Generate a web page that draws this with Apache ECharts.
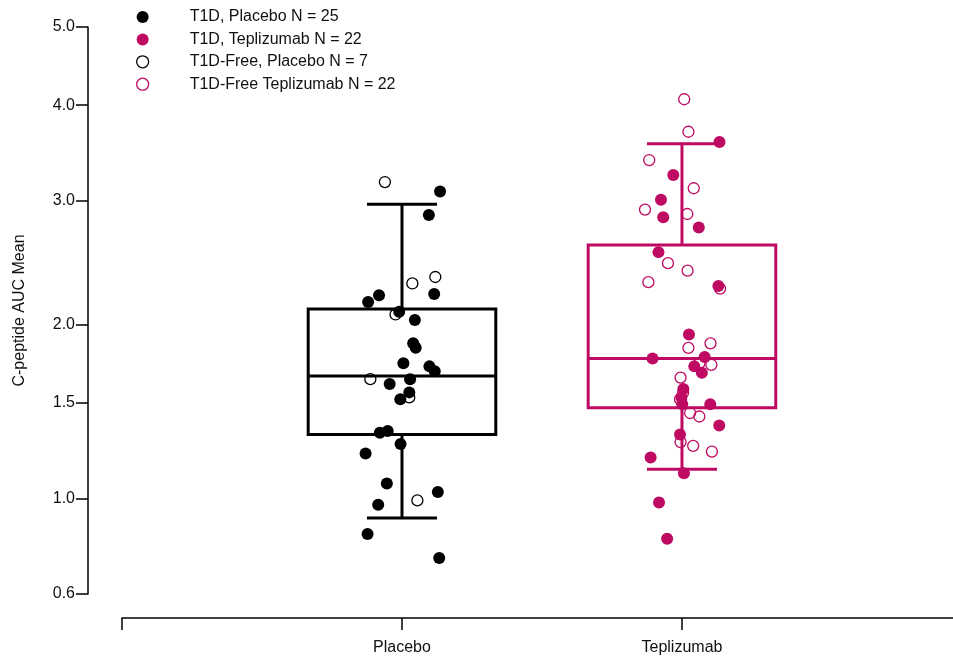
<!DOCTYPE html>
<html>
<head>
<meta charset="utf-8">
<script src="https://cdn.jsdelivr.net/npm/echarts@6/dist/echarts.min.js"></script>
<style>
  html, body { margin: 0; padding: 0; background: #fff; }
  #chart { width: 953px; height: 660px; }
</style>
</head>
<body>
<div id="chart"></div>
<script>
// Treatment groups along the x axis
const categories = ['Placebo', 'Teplizumab'];

// Y tick values (axis is drawn on a log10(value + 1) scale)
const yTicks = [0.6, 1.0, 1.5, 2.0, 3.0, 4.0, 5.0];

// Box summaries: [lower whisker, Q1, median, Q3, upper whisker]
const boxPlacebo = [0.91, 1.32, 1.66, 2.11, 2.97];
const boxTeplizumab = [1.14, 1.47, 1.77, 2.61, 3.57];

// Individual participants: C-peptide AUC mean and horizontal jitter
const t1dPlaceboValues = [3.09, 2.87, 2.21, 2.16, 2.22, 2.09, 2.03, 1.87, 1.84, 1.74, 1.72, 1.69, 1.61, 1.64, 1.56, 1.52, 1.33, 1.34, 1.27, 1.22, 1.07, 1.03, 0.97, 0.84, 0.74];
const t1dPlaceboJitter = [0.136, 0.096, -0.082, -0.121, 0.115, -0.010, 0.046, 0.040, 0.049, 0.005, 0.098, 0.117, -0.044, 0.029, 0.026, -0.006, -0.079, -0.051, -0.005, -0.130, -0.054, 0.128, -0.085, -0.123, 0.133];

const t1dTepValues = [3.59, 3.25, 3.01, 2.85, 2.76, 2.55, 2.28, 1.93, 1.77, 1.78, 1.72, 1.68, 1.58, 1.53, 1.49, 1.49, 1.37, 1.32, 1.20, 1.12, 0.98, 0.82];
const t1dTepJitter = [0.134, -0.031, -0.075, -0.067, 0.060, -0.084, 0.130, 0.025, -0.105, 0.081, 0.044, 0.071, 0.005, -0.002, 0.001, 0.101, 0.133, -0.007, -0.112, 0.007, -0.082, -0.053];

const freePlaceboValues = [3.18, 2.30, 2.35, 2.07, 1.64, 1.53, 0.99];
const freePlaceboJitter = [-0.061, 0.037, 0.119, -0.023, -0.113, 0.026, 0.055];

const freeTepValues = [4.07, 3.70, 3.40, 3.12, 2.92, 2.88, 2.46, 2.40, 2.31, 2.26, 1.84, 1.87, 1.73, 1.74, 1.65, 1.52, 1.44, 1.42, 1.28, 1.26, 1.23, 1.56];
const freeTepJitter = [0.008, 0.023, -0.117, 0.042, -0.132, 0.019, -0.050, 0.020, -0.120, 0.136, 0.023, 0.102, 0.105, 0.062, -0.005, -0.007, 0.029, 0.062, -0.005, 0.040, 0.107, 0.004];

const seriesNames = [
  'T1D, Placebo N = 25',
  'T1D, Teplizumab N = 22',
  'T1D-Free, Placebo N = 7',
  'T1D-Free Teplizumab N = 22'
];

const BLACK = '#000000';
const MAGENTA = '#BE0A62';
const FONT = '"Liberation Sans", Arial, sans-serif';
const OPEN_BORDER = 1.3;

// log10(v + 1) transform used for the vertical scale
const toAxis = v => Math.log10(v + 1);
const fromAxis = a => Math.pow(10, a) - 1;

const points = (values, jitter, catIndex) =>
  values.map((v, k) => [catIndex + 1 + jitter[k], toAxis(v)]);

const boxColors = [BLACK, MAGENTA];
const boxData = [boxPlacebo, boxTeplizumab].map((b, i) => [i + 1].concat(b.map(toAxis)));

const BOX_WIDTH = 0.67;   // in category units
const CAP_WIDTH = 0.25;
const BOX_LINE = 3;

function renderBox(params, api) {
  const x = api.value(0);
  const c = (v) => api.coord([x, v]);
  const pMin = c(api.value(1)), pQ1 = c(api.value(2)), pMed = c(api.value(3)),
        pQ3 = c(api.value(4)), pMax = c(api.value(5));
  const half = api.size([BOX_WIDTH, 0])[0] / 2;
  const capHalf = api.size([CAP_WIDTH, 0])[0] / 2;
  const cx = pMed[0];
  const style = { stroke: boxColors[params.dataIndex], lineWidth: BOX_LINE, fill: null };
  return {
    type: 'group',
    children: [
      { type: 'line', shape: { x1: cx, y1: pQ3[1], x2: cx, y2: pMax[1] }, style },
      { type: 'line', shape: { x1: cx, y1: pQ1[1], x2: cx, y2: pMin[1] }, style },
      { type: 'line', shape: { x1: cx - capHalf, y1: pMax[1], x2: cx + capHalf, y2: pMax[1] }, style },
      { type: 'line', shape: { x1: cx - capHalf, y1: pMin[1], x2: cx + capHalf, y2: pMin[1] }, style },
      { type: 'rect', shape: { x: cx - half, y: pQ3[1], width: half * 2, height: pQ1[1] - pQ3[1] }, style },
      { type: 'line', shape: { x1: cx - half, y1: pMed[1], x2: cx + half, y2: pMed[1] }, style }
    ]
  };
}

const chart = echarts.init(document.getElementById('chart'), null, { renderer: 'canvas' });

const filledStyle = (color) => ({ color: color, borderWidth: 0, opacity: 1 });
const openStyle = (color) => ({ color: 'rgba(255,255,255,0)', borderColor: color, borderWidth: OPEN_BORDER, opacity: 1 });

chart.setOption({
  animation: false,
  backgroundColor: '#ffffff',
  textStyle: { fontFamily: FONT },
  grid: { left: 122, right: 0, top: 27, bottom: 66 },
  legend: {
    orient: 'vertical',
    left: 136,
    top: 8,
    padding: 0,
    itemWidth: 12,
    itemHeight: 12,
    itemGap: 4.4,
    icon: 'circle',
    data: [
      { name: seriesNames[0] },
      { name: seriesNames[1] },
      { name: seriesNames[2], itemStyle: { borderWidth: OPEN_BORDER, borderColor: BLACK, color: 'rgba(255,255,255,0)' } },
      { name: seriesNames[3], itemStyle: { borderWidth: OPEN_BORDER, borderColor: MAGENTA, color: 'rgba(255,255,255,0)' } }
    ],
    textStyle: { fontFamily: FONT, fontSize: 16, color: '#111', lineHeight: 18, padding: [0, 0, 0, 36] }
  },
  xAxis: {
    type: 'value',
    min: 0,
    max: 2.968,
    offset: 24,
    splitLine: { show: false },
    axisLine: { show: true, onZero: false, lineStyle: { color: BLACK, width: 1.5 } },
    axisTick: { show: true, length: 12, customValues: [0, 1, 2], lineStyle: { color: BLACK, width: 1.5 } },
    axisLabel: {
      customValues: [1, 2],
      margin: 22,
      fontSize: 16,
      color: '#111',
      fontFamily: FONT,
      formatter: (v) => categories[Math.round(v) - 1] || ''
    }
  },
  yAxis: {
    type: 'value',
    min: toAxis(yTicks[0]),
    max: toAxis(yTicks[yTicks.length - 1]),
    offset: 34,
    name: 'C-peptide AUC Mean',
    nameLocation: 'middle',
    nameRotate: 90,
    nameGap: 60,
    nameTextStyle: { fontSize: 16, color: '#111', fontFamily: FONT },
    splitLine: { show: false },
    axisLine: { show: true, onZero: false, lineStyle: { color: BLACK, width: 1.5 } },
    axisTick: { show: true, length: 12, customValues: yTicks.map(toAxis), lineStyle: { color: BLACK, width: 1.5 } },
    axisLabel: {
      customValues: yTicks.map(toAxis),
      margin: 13,
      fontSize: 16,
      color: '#111',
      fontFamily: FONT,
      formatter: (a) => fromAxis(a).toFixed(1)
    }
  },
  series: [
    {
      type: 'custom',
      name: 'box',
      renderItem: renderBox,
      data: boxData,
      encode: { x: 0, y: [1, 2, 3, 4, 5] },
      z: 1,
      silent: true
    },
    {
      type: 'scatter', name: seriesNames[0], z: 4,
      symbol: 'circle', symbolSize: 12,
      itemStyle: filledStyle(BLACK),
      data: points(t1dPlaceboValues, t1dPlaceboJitter, 0)
    },
    {
      type: 'scatter', name: seriesNames[1], z: 4,
      symbol: 'circle', symbolSize: 12,
      itemStyle: filledStyle(MAGENTA),
      data: points(t1dTepValues, t1dTepJitter, 1)
    },
    {
      type: 'scatter', name: seriesNames[2], z: 3,
      symbol: 'circle', symbolSize: 11,
      itemStyle: openStyle(BLACK),
      data: points(freePlaceboValues, freePlaceboJitter, 0)
    },
    {
      type: 'scatter', name: seriesNames[3], z: 3,
      symbol: 'circle', symbolSize: 11,
      itemStyle: openStyle(MAGENTA),
      data: points(freeTepValues, freeTepJitter, 1)
    }
  ]
});
</script>
</body>
</html>
